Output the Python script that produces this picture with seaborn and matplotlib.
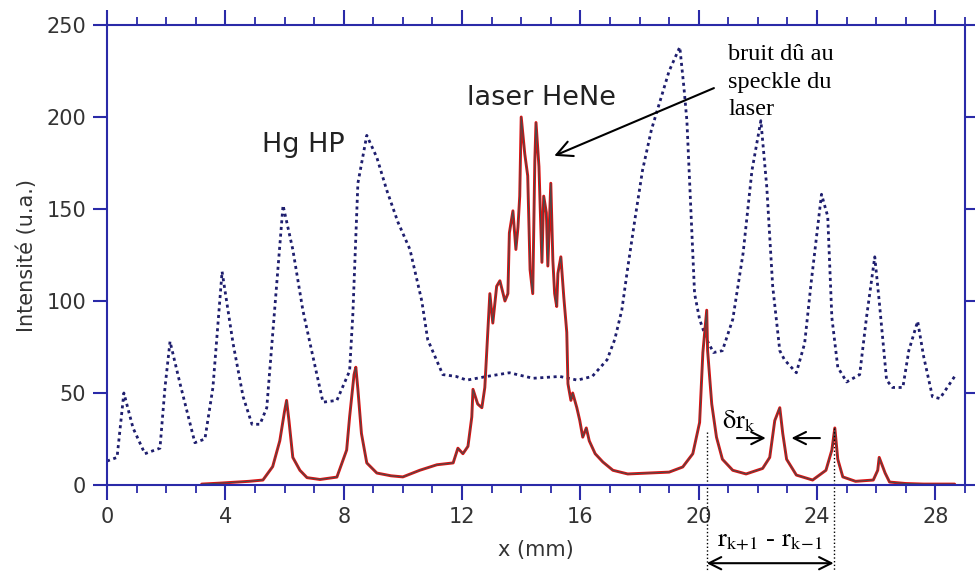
import matplotlib
matplotlib.use("Agg")
import matplotlib.pyplot as plt
import pandas as pd
import seaborn as sns
from matplotlib.ticker import MultipleLocator

# Hg high-pressure lamp ring profile (dotted curve)
hg_x = [0.0, 0.34, 0.57, 0.88, 1.28, 1.79, 1.96, 2.13, 2.47, 2.97, 3.31, 3.58, 3.89,
        4.26, 4.6, 4.9, 5.17, 5.4, 5.74, 5.95, 6.28, 6.62, 6.93, 7.3, 7.77, 8.2,
        8.31, 8.48, 8.78, 9.12, 9.46, 9.83, 10.24, 10.64, 10.84, 11.35, 11.8,
        12.16, 12.84, 13.6, 14.4, 15.3, 15.9, 16.4, 16.9, 17.16, 17.4, 17.6,
        17.84, 18.1, 18.4, 18.7, 19.0, 19.36, 19.5, 19.6, 19.7, 19.86, 20.03,
        20.27, 20.5, 20.8, 21.15, 21.5, 21.8, 22.1, 22.3, 22.5, 22.74, 22.9,
        23.3, 23.58, 23.8, 24.15, 24.36, 24.5, 24.7, 25.0, 25.44, 25.67, 25.95,
        26.1, 26.35, 26.55, 26.9, 27.1, 27.4, 27.6, 27.9, 28.15, 28.65]
hg_y = [13, 15, 50, 31, 17, 20, 53, 78, 55, 23, 25, 53, 116,
        77, 48, 33, 33, 42, 110, 152, 128, 95, 72, 45, 46, 62,
        93, 164, 190, 178, 160, 143, 128, 100, 79, 60, 59,
        57, 59, 61, 58, 59, 57, 59, 68, 79, 95, 118,
        144, 171, 193, 209, 225, 238, 216, 198, 162, 104, 90,
        79, 72, 73, 90, 126, 171, 198, 162, 108, 73, 68,
        61, 77, 110, 158, 146, 91, 64, 56, 60, 91, 124,
        100, 57, 53, 53, 73, 89, 70, 48, 47, 59]

# HeNe laser ring profile (solid red curve)
laser_x = [3.2, 3.8, 4.3, 4.8, 5.27, 5.6, 5.84, 6.0, 6.07, 6.15,
           6.28, 6.52, 6.76, 7.2, 7.77, 8.1, 8.2, 8.35, 8.41, 8.48,
           8.6, 8.78, 9.12, 9.6, 10.0, 10.57, 11.15, 11.7, 11.86, 12.03,
           12.2, 12.33, 12.37, 12.53, 12.67, 12.77, 12.87, 12.94, 13.04, 13.17,
           13.28, 13.45, 13.55, 13.6, 13.72, 13.82, 13.89, 13.95, 14.0, 14.12,
           14.22, 14.3, 14.39, 14.46, 14.5, 14.6, 14.7, 14.76, 14.85, 14.9,
           15.0, 15.07, 15.13, 15.2, 15.24, 15.34, 15.44, 15.54, 15.58, 15.68,
           15.74, 15.88, 15.98, 16.08, 16.2, 16.3, 16.5, 16.76, 17.1, 17.6,
           18.3, 19.0, 19.46, 19.8, 20.03, 20.14, 20.27, 20.3, 20.44, 20.6,
           20.8, 21.15, 21.6, 22.16, 22.4, 22.57, 22.74, 22.84, 22.97, 23.3,
           23.85, 24.3, 24.5, 24.6, 24.7, 24.87, 25.3, 25.9, 26.05, 26.1,
           26.3, 26.45, 27.0, 27.6, 28.2, 28.65]
laser_y = [0.5, 1, 1.5, 2, 2.7, 10, 24, 40, 46, 35,
           15, 8, 4, 3, 4.3, 19, 37, 60, 64, 52,
           28, 12, 6.5, 5, 4.4, 8, 11, 12, 20, 17,
           21, 37, 52, 44, 42, 53, 83, 104, 88, 108,
           111, 100, 104, 137, 149, 128, 140, 157, 200, 180,
           168, 117, 104, 176, 197, 173, 121, 157, 148, 119,
           164, 122, 104, 97, 115, 124, 102, 83, 55, 46,
           50, 42, 35, 26, 31, 24, 17, 12.5, 8, 6,
           6.5, 7, 9.8, 17, 34, 72, 95, 73, 44, 26,
           14, 8, 6, 9, 15, 35, 42, 28, 14, 5.4,
           2.7, 8, 19, 31, 14, 4.4, 2, 2.7, 8, 15,
           6.5, 1.6, 0.8, 0.5, 0.5, 0.5]

x_ticks = [0, 4, 8, 12, 16, 20, 24, 28]
y_ticks = [0, 50, 100, 150, 200, 250]

# ring positions used for the spacing annotation
r_prev, r_k, r_next = 20.27, 22.74, 24.56

sns.set_theme(style="white")
plt.rcParams["font.family"] = ["DejaVu Sans"]
plt.rcParams["mathtext.fontset"] = "stix"

AXIS_BLUE = "#2a2aa8"
TEXT_GREY = "#333333"
SERIF = "Liberation Serif"

fig = plt.figure(figsize=(9.75, 5.71), dpi=100)
ax = fig.add_axes([107 / 975, 1 - 485 / 571, (965 - 107) / 975, (485 - 25) / 571])
ax.set_facecolor("white")

hg = pd.DataFrame({"x": hg_x, "y": hg_y})
laser = pd.DataFrame({"x": laser_x, "y": laser_y})

sns.lineplot(data=hg, x="x", y="y", ax=ax, color="#1e1e6e", linewidth=2.0,
             linestyle=(0, (1.1, 1.3)), estimator=None, sort=False)
sns.lineplot(data=laser, x="x", y="y", ax=ax, color="#e01010", linewidth=2.1,
             estimator=None, sort=False)
sns.lineplot(data=laser, x="x", y="y", ax=ax, color="#4a4a4a", linewidth=0.8,
             estimator=None, sort=False)

ax.set_xlim(0, 29)
ax.set_ylim(0, 250)
ax.set_xticks(x_ticks)
ax.set_yticks(y_ticks)
ax.xaxis.set_minor_locator(MultipleLocator(1))

for side in ["left", "right", "top", "bottom"]:
    ax.spines[side].set_visible(True)
    ax.spines[side].set_color(AXIS_BLUE)
    ax.spines[side].set_linewidth(1.5)

ax.tick_params(axis="x", which="major", bottom=True, top=True, direction="out",
               length=11, width=1.5, color=AXIS_BLUE, labelcolor=TEXT_GREY,
               labelsize=15, pad=5)
ax.tick_params(axis="x", which="minor", bottom=True, top=True, direction="out",
               length=5.5, width=1.3, color=AXIS_BLUE)
ax.tick_params(axis="y", which="major", left=True, right=True, direction="out",
               length=10, width=1.5, color=AXIS_BLUE, labelcolor=TEXT_GREY,
               labelsize=15, pad=5)

ax.set_xlabel("x (mm)", fontsize=15, color=TEXT_GREY, labelpad=9)
ax.set_ylabel("Intensité (u.a.)", fontsize=15, color=TEXT_GREY, labelpad=7)

# curve labels
ax.text(5.24, 181, "Hg HP", fontsize=19.5, color="#222222", va="baseline")
ax.text(12.16, 206.5, "laser HeNe", fontsize=19.5, color="#222222", va="baseline")

# speckle note with its arrow
ax.text(21.0, 239.5, "bruit dû au\nspeckle du\nlaser", family=SERIF,
        fontsize=17.5, va="top", ha="left", linespacing=1.4, color="black")
ax.annotate("", xy=(15.03, 178.3), xytext=(20.6, 216.3),
            arrowprops=dict(arrowstyle="->", color="black", lw=1.5,
                            mutation_scale=28))

# width of one ring
ax.text(20.78, 31, r"$\mathrm{\delta r_k}$", fontsize=19, va="baseline",
        color="black")
ax.annotate("", xy=(22.36, 25.5), xytext=(21.2, 25.5),
            arrowprops=dict(arrowstyle="->", color="black", lw=1.5,
                            mutation_scale=22))
ax.annotate("", xy=(23.04, 25.5), xytext=(24.19, 25.5),
            arrowprops=dict(arrowstyle="->", color="black", lw=1.5,
                            mutation_scale=22))

# spacing between neighbouring rings
trans = ax.get_xaxis_transform()
ax.plot([r_prev, r_prev], [29 / 250, -0.19], transform=trans, ls=":",
        color="black", lw=1.0, clip_on=False)
ax.plot([r_next, r_next], [31 / 250, -0.19], transform=trans, ls=":",
        color="black", lw=1.0, clip_on=False)
ax.annotate("", xy=(r_next, -0.17), xytext=(r_prev, -0.17), xycoords=trans,
            textcoords=trans, annotation_clip=False,
            arrowprops=dict(arrowstyle="<->", color="black", lw=1.5,
                            mutation_scale=22, shrinkA=0, shrinkB=0))
ax.text((r_prev + r_next) / 2, -0.135,
        r"$\mathrm{r_{k\!+\!1}}$ - $\mathrm{r_{k\!-\!1}}$",
        transform=trans, ha="center", va="baseline", fontsize=19,
        family=SERIF, color="black", clip_on=False)

fig.savefig("out.png", dpi=100, facecolor="white")
